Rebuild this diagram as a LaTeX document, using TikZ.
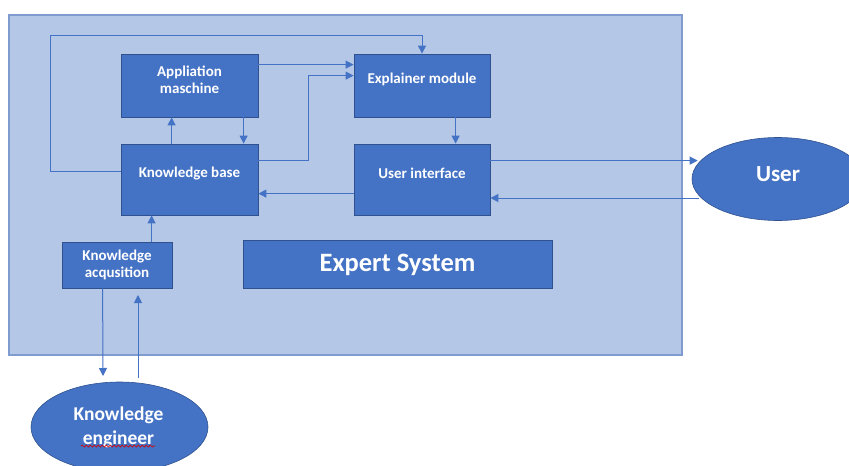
\documentclass[tikz,border=0pt]{standalone}
\usepackage{fontspec}
\setmainfont{Carlito}
\usetikzlibrary{arrows.meta,shapes.geometric,decorations.pathmorphing,calc}
\definecolor{boxblue}{HTML}{4472C4}
\definecolor{boxedge}{HTML}{2F528F}
\definecolor{outerfill}{HTML}{B4C7E7}
\definecolor{outeredge}{HTML}{7F9BD0}
\definecolor{linecol}{HTML}{4472C4}
\tikzset{
  box/.style={draw=boxedge, line width=0.8pt, fill=boxblue, inner sep=0pt},
  lbl/.style={text=white, font=\fontsize{15}{17}\selectfont\bfseries, align=center, inner sep=0pt},
  bigl/.style={text=white, font=\fontsize{23}{27}\selectfont\bfseries, align=center, inner sep=0pt},
  actor/.style={ellipse, draw=boxedge, line width=0.6pt, fill=boxblue, inner sep=0pt},
  conn/.style={draw=linecol, line width=1pt, -{Triangle[length=8pt,width=8pt]}},
}
\begin{document}
\begin{tikzpicture}[x=1pt,y=-1pt]
\useasboundingbox (0,0) rectangle (849,466);
% outer container
\node[draw=outeredge, fill=outerfill, line width=1.5pt, minimum width=673pt, minimum height=340pt, inner sep=0pt] (sys) at (345.5,185) {};
% boxes
\node[box, minimum width=137pt, minimum height=63pt] (app) at (189.5,85.5) {};
\node[lbl] (applbl) at ([yshift=6pt]app.center) {Appliation\\maschine};
\node[box, minimum width=137pt, minimum height=71pt] (kb) at (189.5,179.5) {};
\node[lbl] (kblbl) at ([yshift=6pt]kb.center) {Knowledge base};
\node[box, minimum width=136pt, minimum height=63pt] (expl) at (422,85.5) {};
\node[lbl] (expllbl) at ([yshift=6pt]expl.center) {Explainer module};
\node[box, minimum width=136pt, minimum height=71pt] (ui) at (422,179.5) {};
\node[lbl] (uilbl) at ([yshift=6pt]ui.center) {User interface};
\node[box, minimum width=110pt, minimum height=46pt] (ka) at (117,265) {};
\node[lbl] (kalbl) at (ka.center) {Knowledge\\acqusition};
\node[box, minimum width=309pt, minimum height=48pt] (es) at (397.5,264) {};
\node[bigl, font=\fontsize{26.5}{30}\selectfont\bfseries] (eslbl) at ([yshift=-1pt]es.center) {Expert System};
% actors
\node[actor, minimum width=172pt, minimum height=83pt] (user) at (778,179) {};
\node[bigl] (userlbl) at ([yshift=5pt]user.center) {User};
\node[actor, minimum width=177pt, minimum height=90pt] (ke) at (119.5,427) {};
\node[text=white, font=\fontsize{19.5}{24}\selectfont\bfseries, align=center, inner sep=0pt] (kelbl) at (118.5,427) {Knowledge\\engineer};
\draw[red!85!black, line width=0.7pt, decorate, decoration={snake, amplitude=1pt, segment length=4pt}] (81,446) -- (155,446);
% connectors
\draw[conn] ($(kb.north west)+(0,28)$) -| (50,35) -| (expl.north);
\draw[conn] ($(app.north east)+(0,11)$) coordinate (a1) -- (a1 -| expl.west);
\draw[conn] ($(kb.north east)+(0,17)$) -| ($(expl.north west)+(-45,22)$) -- ($(expl.north west)+(0,22)$);
\draw[conn] ($(kb.north west)+(51,0)$) -- ($(app.south west)+(51,0)$);
\draw[conn] ($(app.south west)+(123,0)$) -- ($(kb.north west)+(123,0)$);
\draw[conn] ($(expl.south west)+(102,0)$) -- ($(ui.north west)+(102,0)$);
\draw[conn] ($(ui.north east)+(0,17)$) coordinate (a2) -- ([xshift=6pt]user.west |- a2);
\draw[conn] ([xshift=7pt]user.west |- 0,198) coordinate (a3) -- (a3 -| ui.east);
\draw[conn] ($(ui.north west)+(0,50)$) coordinate (a4) -- (a4 -| kb.east);
\draw[conn] ($(ka.north west)+(90,0)$) coordinate (a5) -- (a5 |- kb.south);
\coordinate (kaout) at (103,376);
\coordinate (kein) at (138,378);
\draw[conn] ($(ka.south west)+(41,0)$) -- (kaout);
\draw[conn] (kein) -- (138,295);
\end{tikzpicture}
\end{document}
